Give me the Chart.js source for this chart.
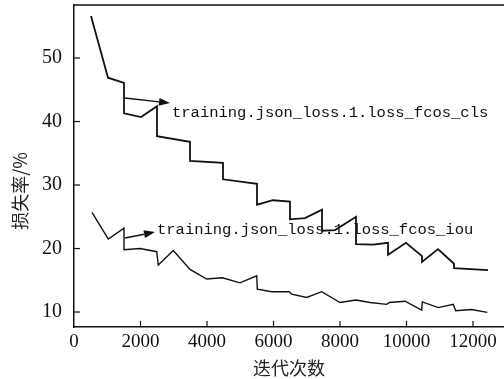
<!DOCTYPE html>
<html>
<head>
<meta charset="utf-8">
<script src="https://cdn.jsdelivr.net/npm/chart.js@4.4.0/dist/chart.umd.min.js"></script>
<style>
  html, body { margin: 0; padding: 0; background: #fff; }
  #wrap { width: 504px; height: 379px; }
</style>
</head>
<body>
<div id="wrap"><canvas id="myChart"></canvas></div>
<script>
// iterations / loss values
const clsIter = [511, 1023, 1504, 1504, 2015, 2496, 2496, 3489, 3489, 4481, 4481, 5504, 5504, 5980, 6496, 6496, 6947, 7459, 7459, 7850, 8481, 8481, 8992, 9444, 9444, 9985, 10466, 10466, 10947, 11429, 11429, 12451];
const clsLoss = [56.6, 46.9, 46.1, 41.3, 40.7, 42.4, 37.7, 36.8, 33.8, 33.5, 30.9, 30.2, 26.9, 27.6, 27.4, 24.6, 24.8, 26.1, 22.8, 22.9, 25.0, 20.7, 20.6, 20.9, 19.0, 20.9, 18.8, 17.9, 19.9, 17.6, 16.9, 16.6];

const iouIter = [541, 1032, 1504, 1504, 1985, 2487, 2535, 2986, 3489, 3991, 4460, 4992, 5495, 5513, 5946, 6475, 6547, 6998, 7450, 8000, 8481, 8902, 9404, 9483, 9955, 10457, 10475, 10956, 11408, 11480, 11961, 12430];
const iouLoss = [25.7, 21.5, 23.2, 19.8, 20.0, 19.5, 17.4, 19.7, 16.7, 15.2, 15.4, 14.6, 15.7, 13.6, 13.2, 13.2, 12.8, 12.3, 13.2, 11.5, 11.9, 11.5, 11.2, 11.5, 11.7, 10.3, 11.6, 10.7, 11.2, 10.2, 10.4, 9.95];

const xTickValues = [0, 2000, 4000, 6000, 8000, 10000, 12000];
const yTickValues = [10, 20, 30, 40, 50];

const clsLabel = 'training.json_loss.1.loss_fcos_cls';
const iouLabel = 'training.json_loss.1.loss_fcos_iou';

function toPoints(xs, ys) {
    const pts = [];
    for (let i = 0; i < xs.length; i++) {
        pts.push({x: xs[i], y: ys[i]});
    }
    return pts;
}

// arrow + label, positions given in data units
const notes = [
    {from: [1534, 43.7], to: [2887, 42.9], text: clsLabel, at: [2947, 41.3]},
    {from: [1534, 21.65], to: [2436, 22.6], text: iouLabel, at: [2496, 22.9]}
];

const decorations = {
    id: 'decorations',
    afterDraw(chart) {
        const ctx = chart.ctx;
        const area = chart.chartArea;
        const xs = chart.scales.x;
        const ys = chart.scales.y;
        ctx.save();
        ctx.strokeStyle = '#111';
        ctx.lineWidth = 1.5;
        // top frame line
        ctx.beginPath();
        ctx.moveTo(area.left, area.top);
        ctx.lineTo(area.right, area.top);
        ctx.stroke();
        // ticks pointing inward
        ctx.lineWidth = 1.2;
        xTickValues.forEach(v => {
            const px = xs.getPixelForValue(v);
            if (v === 0) return;
            ctx.beginPath();
            ctx.moveTo(px, area.bottom);
            ctx.lineTo(px, area.bottom - 6);
            ctx.stroke();
        });
        yTickValues.forEach(v => {
            const py = ys.getPixelForValue(v);
            ctx.beginPath();
            ctx.moveTo(area.left, py);
            ctx.lineTo(area.left + 6, py);
            ctx.stroke();
        });
        // annotations
        ctx.fillStyle = '#111';
        ctx.strokeStyle = '#111';
        notes.forEach(n => {
            const x0 = xs.getPixelForValue(n.from[0]), y0 = ys.getPixelForValue(n.from[1]);
            const x1 = xs.getPixelForValue(n.to[0]), y1 = ys.getPixelForValue(n.to[1]);
            const ang = Math.atan2(y1 - y0, x1 - x0);
            const len = 11, half = 4;
            const bx = x1 - len * Math.cos(ang), by = y1 - len * Math.sin(ang);
            ctx.lineWidth = 1.5;
            ctx.beginPath();
            ctx.moveTo(x0, y0);
            ctx.lineTo(bx, by);
            ctx.stroke();
            ctx.beginPath();
            ctx.moveTo(x1, y1);
            ctx.lineTo(bx + half * Math.sin(ang), by - half * Math.cos(ang));
            ctx.lineTo(bx - half * Math.sin(ang), by + half * Math.cos(ang));
            ctx.closePath();
            ctx.fill();
            ctx.font = '15.5px "Liberation Mono"';
            ctx.textAlign = 'left';
            ctx.textBaseline = 'middle';
            ctx.fillText(n.text, xs.getPixelForValue(n.at[0]), ys.getPixelForValue(n.at[1]));
        });
        // y axis title
        ctx.translate(20, 191);
        ctx.rotate(-Math.PI / 2);
        ctx.font = '18px "Noto Sans CJK SC"';
        ctx.textAlign = 'center';
        ctx.textBaseline = 'middle';
        ctx.fillStyle = '#222';
        ctx.fillText('损失率/%', 0, 0);
        ctx.restore();
    }
};

const ctx = document.getElementById('myChart').getContext('2d');
const myChart = new Chart(ctx, {
    type: 'line',
    data: {
        datasets: [
            {
                label: clsLabel,
                data: toPoints(clsIter, clsLoss),
                borderColor: '#111',
                borderWidth: 1.8,
                pointRadius: 0,
                tension: 0,
                fill: false
            },
            {
                label: iouLabel,
                data: toPoints(iouIter, iouLoss),
                borderColor: '#111',
                borderWidth: 1.4,
                pointRadius: 0,
                tension: 0,
                fill: false
            }
        ]
    },
    options: {
        responsive: true,
        maintainAspectRatio: false,
        animation: false,
        layout: { padding: { top: 5, right: 0, left: 0, bottom: 0 } },
        plugins: {
            legend: { display: false },
            tooltip: { enabled: false }
        },
        scales: {
            x: {
                type: 'linear',
                min: 0,
                max: 12932,
                afterBuildTicks: s => { s.ticks = xTickValues.map(v => ({value: v})); },
                afterFit: s => { s.height = 52; s.paddingLeft = 0; s.paddingRight = 0; },
                grid: { display: false, drawTicks: false },
                border: { display: true, color: '#111', width: 1.5 },
                ticks: {
                    padding: 4,
                    maxRotation: 0,
                    color: '#111',
                    font: { family: 'Liberation Serif', size: 19 },
                    callback: v => String(v)
                },
                title: {
                    display: true,
                    text: '迭代次数',
                    color: '#222',
                    font: { family: 'Noto Sans CJK SC', size: 18 },
                    padding: { top: 0, bottom: 0 }
                }
            },
            y: {
                min: 7.64,
                max: 58.35,
                afterBuildTicks: s => { s.ticks = yTickValues.map(v => ({value: v})); },
                afterFit: s => { s.width = 74; s.paddingTop = 0; s.paddingBottom = 0; },
                grid: { display: false, drawTicks: false },
                border: { display: true, color: '#111', width: 1.5 },
                ticks: {
                    padding: 12,
                    color: '#111',
                    font: { family: 'Liberation Serif', size: 20 },
                    callback: v => String(v)
                }
            }
        }
    },
    plugins: [decorations]
});
</script>
</body>
</html>
